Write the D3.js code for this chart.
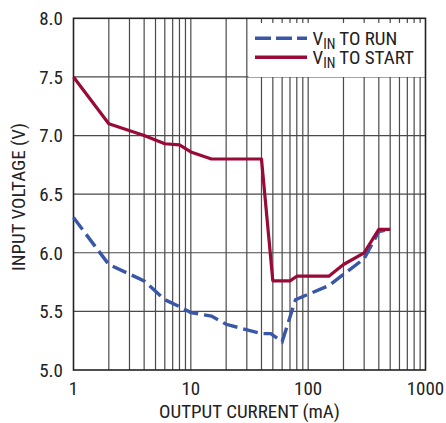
<!DOCTYPE html>
<html>
<head>
<meta charset="UTF-8" />
<title>Input Voltage vs Output Current</title>
<script src="https://d3js.org/d3.v7.min.js"></script>
<style>
  body { margin: 0; background: #fff; }
  svg { display: block; }
  text { font-family: "Liberation Sans Narrow", "Arial Narrow", "Roboto Condensed", "DejaVu Sans Condensed", sans-serif; fill: #222; }
</style>
</head>
<body>
<svg id="chart"></svg>
<script>
  // values
  const runCurrent = [1, 2, 4, 6, 8, 10, 15, 20, 40, 48, 60, 78, 150, 300, 400, 500];
  const runVoltage = [6.3, 5.9, 5.76, 5.6, 5.54, 5.49, 5.46, 5.39, 5.31, 5.31, 5.24, 5.6, 5.72, 5.95, 6.18, 6.2];

  const startCurrent = [1, 2, 4, 6, 8, 10, 15, 40, 50, 70, 80, 150, 200, 300, 400, 500];
  const startVoltage = [7.5, 7.1, 7.0, 6.93, 6.92, 6.86, 6.8, 6.8, 5.76, 5.76, 5.8, 5.8, 5.9, 6.0, 6.2, 6.2];

  const xTicks = [1, 10, 100, 1000];
  const yTicks = [5.0, 5.5, 6.0, 6.5, 7.0, 7.5, 8.0];

  const W = 446, H = 423;
  const plotL = 73.5, plotR = 425.5, plotT = 18.3, plotB = 370;

  const svg = d3.select("#chart").attr("width", W).attr("height", H);

  const x = d3.scaleLog().domain([1, 1000]).range([plotL, plotR]);
  const y = d3.scaleLinear().domain([5, 8]).range([plotB, plotT]);

  // grid
  const minor = [];
  [1, 10, 100].forEach(d => { for (let k = 2; k <= 9; k++) minor.push(d * k); });
  minor.push(10, 100);

  svg.append("g").selectAll("line")
    .data(minor).enter().append("line")
    .attr("x1", d => x(d)).attr("x2", d => x(d))
    .attr("y1", plotT).attr("y2", plotB)
    .attr("stroke", "#4a4a4a").attr("stroke-width", 1.2);

  svg.append("g").selectAll("line")
    .data(yTicks.slice(1, -1)).enter().append("line")
    .attr("x1", plotL).attr("x2", plotR)
    .attr("y1", d => y(d)).attr("y2", d => y(d))
    .attr("stroke", "#4a4a4a").attr("stroke-width", 1.2);

  // legend background covers grid
  svg.append("rect")
    .attr("x", 248.5).attr("y", 23)
    .attr("width", plotR - 248.5).attr("height", 54)
    .attr("fill", "#fff");

  // frame
  svg.append("rect")
    .attr("x", plotL).attr("y", plotT)
    .attr("width", plotR - plotL).attr("height", plotB - plotT)
    .attr("fill", "none").attr("stroke", "#222").attr("stroke-width", 1.6);

  // curves
  const line = d3.line().x(d => x(d[0])).y(d => y(d[1]));

  svg.append("path")
    .datum(runCurrent.map((c, i) => [c, runVoltage[i]]))
    .attr("d", line)
    .attr("fill", "none")
    .attr("stroke", "#3a57a7")
    .attr("stroke-width", 3.4)
    .attr("stroke-dasharray", "15,6");

  svg.append("path")
    .datum(startCurrent.map((c, i) => [c, startVoltage[i]]))
    .attr("d", line)
    .attr("fill", "none")
    .attr("stroke", "#9a0a36")
    .attr("stroke-width", 3.2)
    .attr("stroke-linejoin", "round");

  // tick labels
  svg.append("g").selectAll("text")
    .data(yTicks).enter().append("text")
    .attr("x", 63).attr("y", d => y(d))
    .attr("dy", "0.36em")
    .attr("text-anchor", "end")
    .attr("font-size", 19)
    .text(d => d.toFixed(1));

  svg.append("g").selectAll("text")
    .data(xTicks).enter().append("text")
    .attr("x", d => x(d)).attr("y", 395)
    .attr("text-anchor", "middle")
    .attr("font-size", 19)
    .text(d => d);

  // axis titles
  svg.append("text")
    .attr("x", (plotL + plotR) / 2).attr("y", 418)
    .attr("text-anchor", "middle")
    .attr("font-size", 19)
    .text("OUTPUT CURRENT (mA)");

  svg.append("text")
    .attr("transform", "translate(24.5,197) rotate(-90)")
    .attr("text-anchor", "middle")
    .attr("font-size", 19)
    .text("INPUT VOLTAGE (V)");

  // legend
  const legend = [
    { label: "TO RUN", color: "#3a57a7", dash: "16,5", y: 38.3 },
    { label: "TO START", color: "#9a0a36", dash: null, y: 57.3 }
  ];
  legend.forEach(l => {
    svg.append("line")
      .attr("x1", 255).attr("x2", 307)
      .attr("y1", l.y).attr("y2", l.y)
      .attr("stroke", l.color).attr("stroke-width", 3.4)
      .attr("stroke-dasharray", l.dash);
    const t = svg.append("text")
      .attr("x", 312.5).attr("y", l.y + 6.5)
      .attr("font-size", 19);
    t.append("tspan").text("V");
    t.append("tspan").attr("font-size", 14).attr("dy", 4).text("IN");
    t.append("tspan").attr("dy", -4).text(" " + l.label);
  });
</script>
</body>
</html>
